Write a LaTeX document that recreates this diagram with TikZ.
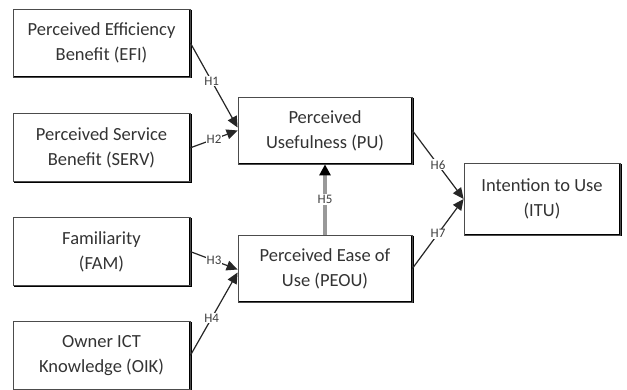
\documentclass[tikz,border=0pt]{standalone}
\usepackage{fontspec}
\setmainfont{Carlito}
\usetikzlibrary{arrows.meta, positioning}
\tikzset{
  construct/.style={
    rectangle, draw=black!70, line width=0.8pt, minimum width=177pt,
    minimum height=68pt, align=center, text=black!80,
    font=\fontsize{18.5}{25}\selectfont,
    append after command={\pgfextra{\draw[line width=2.2pt, black]
      ([yshift=-1pt]\tikzlastnode.north east) -- (\tikzlastnode.south east)
      -- ([xshift=1pt]\tikzlastnode.south west);}}
  },
  path/.style={-{Triangle[length=11pt, width=10pt]}, line width=1.2pt, black!85},
  hyp/.style={fill=white, inner sep=1pt, text=black!75,
    font=\fontsize{13}{14}\selectfont},
  mediator/.style={-{Triangle[length=11pt, width=11pt, black]}, line width=3.5pt,
    black!40}
}
\begin{document}
\begin{tikzpicture}[x=1pt, y=-1pt]
  \useasboundingbox (0,0) rectangle (627,390);
  \node[construct] (efi) at (101.5,43) {Perceived Efficiency\\Benefit (EFI)};
  \node[construct, below=36pt of efi] (serv)
    {Perceived Service\\Benefit (SERV)};
  \node[construct, below=35pt of serv] (fam) {Familiarity\\(FAM)};
  \node[construct, below=35pt of fam] (oik)
    {Owner ICT\\Knowledge (OIK)};
  \node[construct, minimum width=174pt, minimum height=67pt] (pu)
    at (325,130.5) {Perceived\\Usefulness (PU)};
  \node[construct, minimum width=174pt, minimum height=67pt] (peou)
    at (325,268.5) {Perceived Ease of\\Use (PEOU)};
  \node[construct, minimum width=156pt, minimum height=72pt] (itu)
    at (542,199) {Intention to Use\\(ITU)};

  \draw[path] (efi.east) -- ([yshift=3pt]pu.west)
    node[hyp, pos=0.45] {H1};
  \draw[path] (serv.east) -- (pu.west) node[hyp, midway] {H2};
  \draw[path] (fam.east) -- ([yshift=-1pt]peou.west) node[hyp, midway] {H3};
  \draw[path] (oik.east) -- ([yshift=-4pt]peou.west)
    node[hyp, pos=0.45] {H4};
  \draw[mediator] (peou.north) -- (pu.south) node[hyp, midway] {H5};
  \draw[path] (pu.east) -- (itu.west) node[hyp, midway] {H6};
  \draw[path] (peou.east) -- (itu.west) node[hyp, midway] {H7};
\end{tikzpicture}
\end{document}
